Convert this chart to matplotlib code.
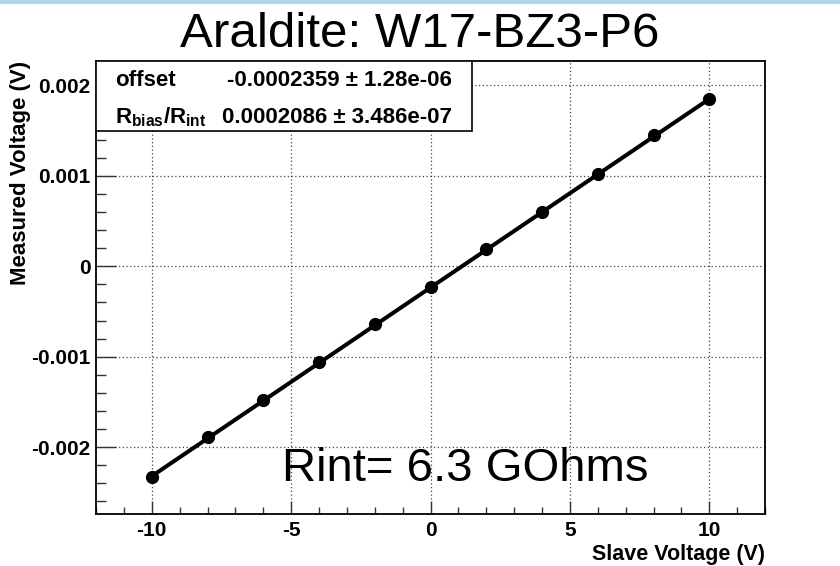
import matplotlib
matplotlib.use("Agg")
import matplotlib.pyplot as plt
from matplotlib.patches import Rectangle
from matplotlib.ticker import MultipleLocator, FuncFormatter

plt.rcParams['font.family'] = ['Liberation Sans', 'DejaVu Sans']
plt.rcParams['mathtext.fontset'] = 'custom'
plt.rcParams['mathtext.rm'] = 'Liberation Sans'
plt.rcParams['mathtext.bf'] = 'Liberation Sans:bold'

# data
slave_v = [-10, -8, -6, -4, -2, 0, 2, 4, 6, 8, 10]
measured_v = [-0.00233, -0.00189, -0.00148, -0.00106, -0.00064, -0.00023,
              0.00019, 0.00060, 0.00102, 0.00145, 0.00185]
fit_offset = -0.0002359
fit_offset_err = 1.28e-06
fit_slope = 0.0002086
fit_slope_err = 3.486e-07

title = "Araldite: W17-BZ3-P6"
note = "Rint= 6.3 GOhms"

fig = plt.figure(figsize=(8.4, 5.66), dpi=100)
# light blue strip along the top of the slide
fig.patches.append(Rectangle((0, 1 - 4 / 566), 1, 4 / 566, transform=fig.transFigure,
                             facecolor='#aed6f0', edgecolor='none'))

ax = fig.add_axes([96 / 840, 52 / 566, 669 / 840, 453 / 566])
ax.set_xlim(-12, 12)
ax.set_ylim(-0.00274, 0.00227)

# fitted line and measured points
fit_x = [slave_v[0], slave_v[-1]]
fit_y = [fit_offset + fit_slope * v for v in fit_x]
ax.plot(fit_x, fit_y, color='black', lw=2.9, zorder=3)
ax.plot(slave_v, measured_v, 'o', color='black', ms=8.5, zorder=4)

ax.xaxis.set_major_locator(MultipleLocator(5))
ax.xaxis.set_minor_locator(MultipleLocator(1))
ax.yaxis.set_major_locator(MultipleLocator(0.001))
ax.yaxis.set_minor_locator(MultipleLocator(0.0002))
ax.yaxis.set_major_formatter(FuncFormatter(lambda v, p: '0' if abs(v) < 1e-9 else f'{v:g}'))
ax.xaxis.set_major_formatter(FuncFormatter(lambda v, p: f'{v:g}'))

ax.tick_params(axis='both', which='both', direction='in', color='#333333', width=1,
               labelsize=15)
ax.tick_params(axis='x', which='major', length=9.5, pad=5)
ax.tick_params(axis='x', which='minor', length=5)
ax.tick_params(axis='y', which='major', length=14.5, pad=4)
ax.tick_params(axis='y', which='minor', length=7.2)
for lab in ax.get_xticklabels() + ax.get_yticklabels():
    lab.set_fontweight('bold')
for sp in ax.spines.values():
    sp.set_linewidth(1.3)

ax.grid(True, which='major', linestyle=(0, (1, 2)), color='#444444', lw=0.9)
ax.set_axisbelow(True)

ax.set_xlabel("Slave Voltage (V)", fontsize=15.5, fontweight='bold', loc='right', labelpad=3)
ax.set_ylabel("Measured Voltage (V)", fontsize=16, fontweight='bold', loc='top', labelpad=0)

fig.text(0.5, 1 - 47 / 566, title, fontsize=35.5, ha='center', va='baseline')
ax.text(-5.34, -0.002376, note, fontsize=34, ha='left', va='baseline', zorder=5)

# fit statistics box
box = Rectangle((0, 0.8455), 0.562, 0.1545, transform=ax.transAxes, facecolor='white',
                edgecolor='black', lw=1.2, zorder=6)
ax.add_patch(box)
ax.text(0.0284, 0.958, "offset", transform=ax.transAxes, fontsize=16, fontweight='bold',
        ha='left', va='center', zorder=7)
ax.text(0.532, 0.958, f"{fit_offset:.7f} ± {fit_offset_err:.2e}", transform=ax.transAxes,
        fontsize=16, fontweight='bold', ha='right', va='center', zorder=7)
ax.text(0.0284, 0.876, r"$\mathbf{R_{bias}/R_{int}}$", transform=ax.transAxes, fontsize=16,
        ha='left', va='center', zorder=7)
ax.text(0.532, 0.876, f"{fit_slope:.7f} ± {fit_slope_err:.3e}", transform=ax.transAxes,
        fontsize=16, fontweight='bold', ha='right', va='center', zorder=7)

fig.savefig("out.png", dpi=100)
